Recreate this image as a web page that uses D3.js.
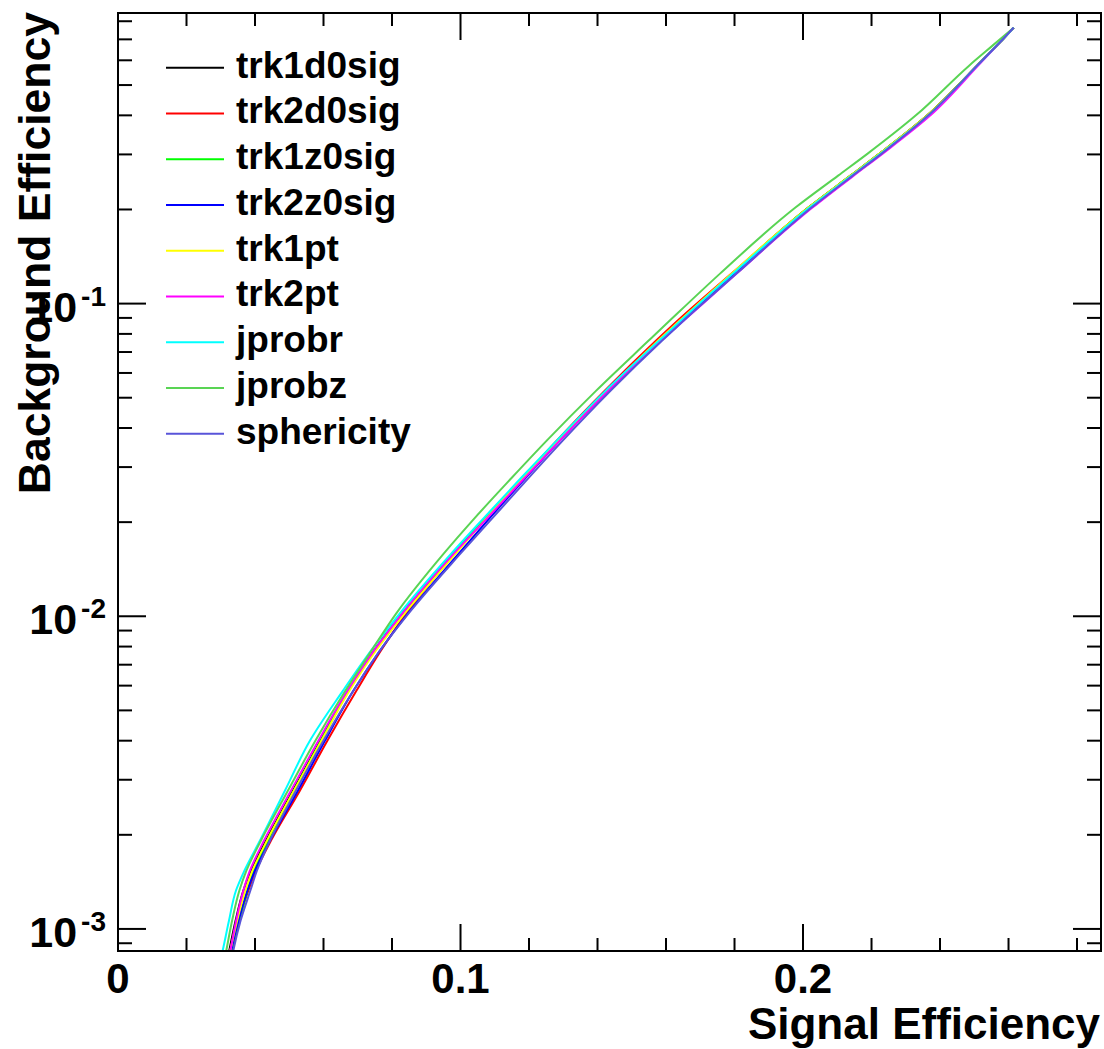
<!DOCTYPE html>
<html>
<head>
<meta charset="utf-8">
<script src="https://cdn.jsdelivr.net/npm/d3@7"></script>
<style>
  html, body { margin: 0; padding: 0; background: #fff; }
  svg { display: block; }
  text { font-family: "Liberation Sans", Arial, Helvetica, sans-serif; font-weight: bold; fill: #000; }
</style>
</head>
<body>
<svg id="chart" width="1104" height="1049"></svg>
<script>
// ---------------- data ----------------
const bkgEff = [0.00082, 0.000853, 0.001064, 0.001327, 0.001538, 0.001917, 0.002771, 0.004004,
  0.005785, 0.00777, 0.0102, 0.01586, 0.02023, 0.02757, 0.03646, 0.05269,
  0.07615, 0.08825, 0.1247, 0.2028, 0.2566, 0.3017, 0.3993, 0.5769, 0.6834, 0.7631];

const trk1d0sig = [0.03218, 0.03250, 0.03434, 0.03661, 0.03883, 0.04321, 0.05109, 0.05912,
  0.06730, 0.07474, 0.08295, 0.09801, 0.10669, 0.11796, 0.12838, 0.14269,
  0.15801, 0.16432, 0.17942, 0.20158, 0.21390, 0.22237, 0.23623, 0.25083, 0.25740, 0.26149];
const trk2d0sig = [0.03247, 0.03279, 0.03522, 0.03807, 0.04029, 0.04467, 0.05313, 0.06116,
  0.06964, 0.07678, 0.08412, 0.09830, 0.10669, 0.11796, 0.12809, 0.14211,
  0.15713, 0.16344, 0.17913, 0.20158, 0.21390, 0.22237, 0.23623, 0.25083, 0.25740, 0.26149];
const trk1z0sig = [0.03306, 0.03338, 0.03551, 0.03778, 0.03971, 0.04379, 0.05138, 0.05927,
  0.06730, 0.07474, 0.08295, 0.09801, 0.10669, 0.11796, 0.12838, 0.14269,
  0.15801, 0.16432, 0.17942, 0.20158, 0.21390, 0.22237, 0.23623, 0.25083, 0.25740, 0.26149];
const trk2z0sig = [0.03276, 0.03308, 0.03522, 0.03778, 0.04000, 0.04438, 0.05255, 0.06043,
  0.06876, 0.07649, 0.08456, 0.09947, 0.10786, 0.11884, 0.12896, 0.14313,
  0.15859, 0.16490, 0.18030, 0.20246, 0.21448, 0.22295, 0.23652, 0.25083, 0.25740, 0.26149];
const trk1pt = [0.03247, 0.03279, 0.03478, 0.03719, 0.03927, 0.04350, 0.05138, 0.05941,
  0.06759, 0.07532, 0.08368, 0.09859, 0.10698, 0.11811, 0.12838, 0.14269,
  0.15772, 0.16403, 0.17913, 0.20158, 0.21390, 0.22237, 0.23623, 0.25083, 0.25740, 0.26149];
const trk2pt = [0.03247, 0.03279, 0.03449, 0.03661, 0.03854, 0.04263, 0.05051, 0.05854,
  0.06701, 0.07474, 0.08295, 0.09801, 0.10713, 0.11854, 0.12896, 0.14313,
  0.15859, 0.16520, 0.18059, 0.20275, 0.21478, 0.22325, 0.23711, 0.25112, 0.25740, 0.26149];
const jprobr = [0.03022, 0.03057, 0.03241, 0.03445, 0.03693, 0.04146, 0.04876, 0.05606,
  0.06569, 0.07387, 0.08222, 0.09728, 0.10610, 0.11752, 0.12809, 0.14239,
  0.15801, 0.16432, 0.17956, 0.20187, 0.21419, 0.22266, 0.23653, 0.25083, 0.25740, 0.26149];
const jprobz = [0.03130, 0.03162, 0.03332, 0.03544, 0.03752, 0.04175, 0.04963, 0.05766,
  0.06642, 0.07401, 0.08120, 0.09509, 0.10348, 0.11475, 0.12517, 0.13962,
  0.15494, 0.16111, 0.17577, 0.19778, 0.21025, 0.21887, 0.23287, 0.24849, 0.25638, 0.26149];
const sphericity = [0.03335, 0.03367, 0.03580, 0.03865, 0.04058, 0.04438, 0.05197, 0.06000,
  0.06876, 0.07649, 0.08479, 0.09997, 0.10865, 0.11971, 0.12984, 0.14386,
  0.15889, 0.16520, 0.18059, 0.20246, 0.21448, 0.22295, 0.23652, 0.25083, 0.25740, 0.26149];

const seriesNames = ["trk1d0sig", "trk2d0sig", "trk1z0sig", "trk2z0sig", "trk1pt", "trk2pt", "jprobr", "jprobz", "sphericity"];
const seriesValues = [trk1d0sig, trk2d0sig, trk1z0sig, trk2z0sig, trk1pt, trk2pt, jprobr, jprobz, sphericity];
const seriesColors = ["#000000", "#ff0000", "#00ff00", "#0000ff", "#ffff00", "#ff00ff", "#00ffff", "#59d454", "#5954d9"];

const xDomain = [0, 0.287];
const yDomain = [0.00085, 0.85];
const xMajorTicks = [0, 0.1, 0.2];
const xTickLabels = ["0", "0.1", "0.2"];
const yMajorTicks = [0.001, 0.01, 0.1];
const yTickExponents = ["-3", "-2", "-1"];
const xTitle = "Signal Efficiency";
const yTitle = "Background Efficiency";

// ---------------- layout ----------------
const L = 118, T = 13, R = 1101, B = 951;
const svg = d3.select("#chart");

const x = d3.scaleLinear().domain(xDomain).range([L, R]);
const y = d3.scaleLog().domain(yDomain).range([B, T]);

svg.append("defs").append("clipPath").attr("id", "clip")
  .append("rect").attr("x", L).attr("y", T).attr("width", R - L).attr("height", B - T);

// curves
const line = d3.line()
  .x(d => x(d[0]))
  .y(d => y(d[1]))
  .curve(d3.curveMonotoneY);

const curves = svg.append("g").attr("clip-path", "url(#clip)");
seriesValues.forEach((vals, i) => {
  const pts = vals.map((v, j) => [v, bkgEff[j]]);
  curves.append("path")
    .attr("d", line(pts))
    .attr("fill", "none")
    .attr("stroke", seriesColors[i])
    .attr("stroke-width", 2)
    .attr("stroke-linejoin", "round");
});

// ticks
const xMinor = d3.range(0, 0.2801, 0.02).filter(v => !xMajorTicks.some(m => Math.abs(m - v) < 1e-9));
const yMinor = [];
[-4, -3, -2, -1].forEach(e => { for (let k = 2; k <= 9; k++) { const v = k * Math.pow(10, e); if (v > yDomain[0] && v < yDomain[1]) yMinor.push(v); } });
const ax = svg.append("g").attr("stroke", "#000").attr("stroke-width", 2);
const majLen = 27, minLen = 13;
xMajorTicks.forEach(v => {
  ax.append("line").attr("x1", x(v)).attr("x2", x(v)).attr("y1", B).attr("y2", B - majLen);
  ax.append("line").attr("x1", x(v)).attr("x2", x(v)).attr("y1", T).attr("y2", T + majLen);
});
xMinor.forEach(v => {
  ax.append("line").attr("x1", x(v)).attr("x2", x(v)).attr("y1", B).attr("y2", B - minLen);
  ax.append("line").attr("x1", x(v)).attr("x2", x(v)).attr("y1", T).attr("y2", T + minLen);
});
yMajorTicks.forEach(v => {
  ax.append("line").attr("x1", L).attr("x2", L + 28).attr("y1", y(v)).attr("y2", y(v));
  ax.append("line").attr("x1", R).attr("x2", R - 28).attr("y1", y(v)).attr("y2", y(v));
});
yMinor.forEach(v => {
  ax.append("line").attr("x1", L).attr("x2", L + 14).attr("y1", y(v)).attr("y2", y(v));
  ax.append("line").attr("x1", R).attr("x2", R - 14).attr("y1", y(v)).attr("y2", y(v));
});

// frame
svg.append("rect").attr("x", L).attr("y", T).attr("width", R - L).attr("height", B - T)
  .attr("fill", "none").attr("stroke", "#000").attr("stroke-width", 2);

// x tick labels
xMajorTicks.forEach((v, i) => {
  svg.append("text").attr("x", x(v)).attr("y", 993)
    .attr("text-anchor", "middle").attr("font-size", 42).text(xTickLabels[i]);
});

// y tick labels
yMajorTicks.forEach((v, i) => {
  const t = svg.append("text").attr("x", 106).attr("y", y(v) + 18)
    .attr("text-anchor", "end").attr("font-size", 43);
  t.append("tspan").text("10");
  t.append("tspan").attr("font-size", 28).attr("dy", -16).attr("dx", 4).text(yTickExponents[i]);
});

// titles
svg.append("text").attr("x", 1100).attr("y", 1039).attr("text-anchor", "end")
  .attr("font-size", 44).text(xTitle);
svg.append("text").attr("transform", "translate(50,12) rotate(-90)").attr("text-anchor", "end")
  .attr("font-size", 44.5).text(yTitle);

// legend
const legY0 = 67.7, legDy = 45.75;
seriesNames.forEach((name, i) => {
  const yy = legY0 + i * legDy;
  svg.append("line").attr("x1", 166).attr("x2", 224).attr("y1", yy).attr("y2", yy)
    .attr("stroke", seriesColors[i]).attr("stroke-width", 2);
  svg.append("text").attr("x", 236).attr("y", yy + 10).attr("font-size", 37).text(name);
});
</script>
</body>
</html>
